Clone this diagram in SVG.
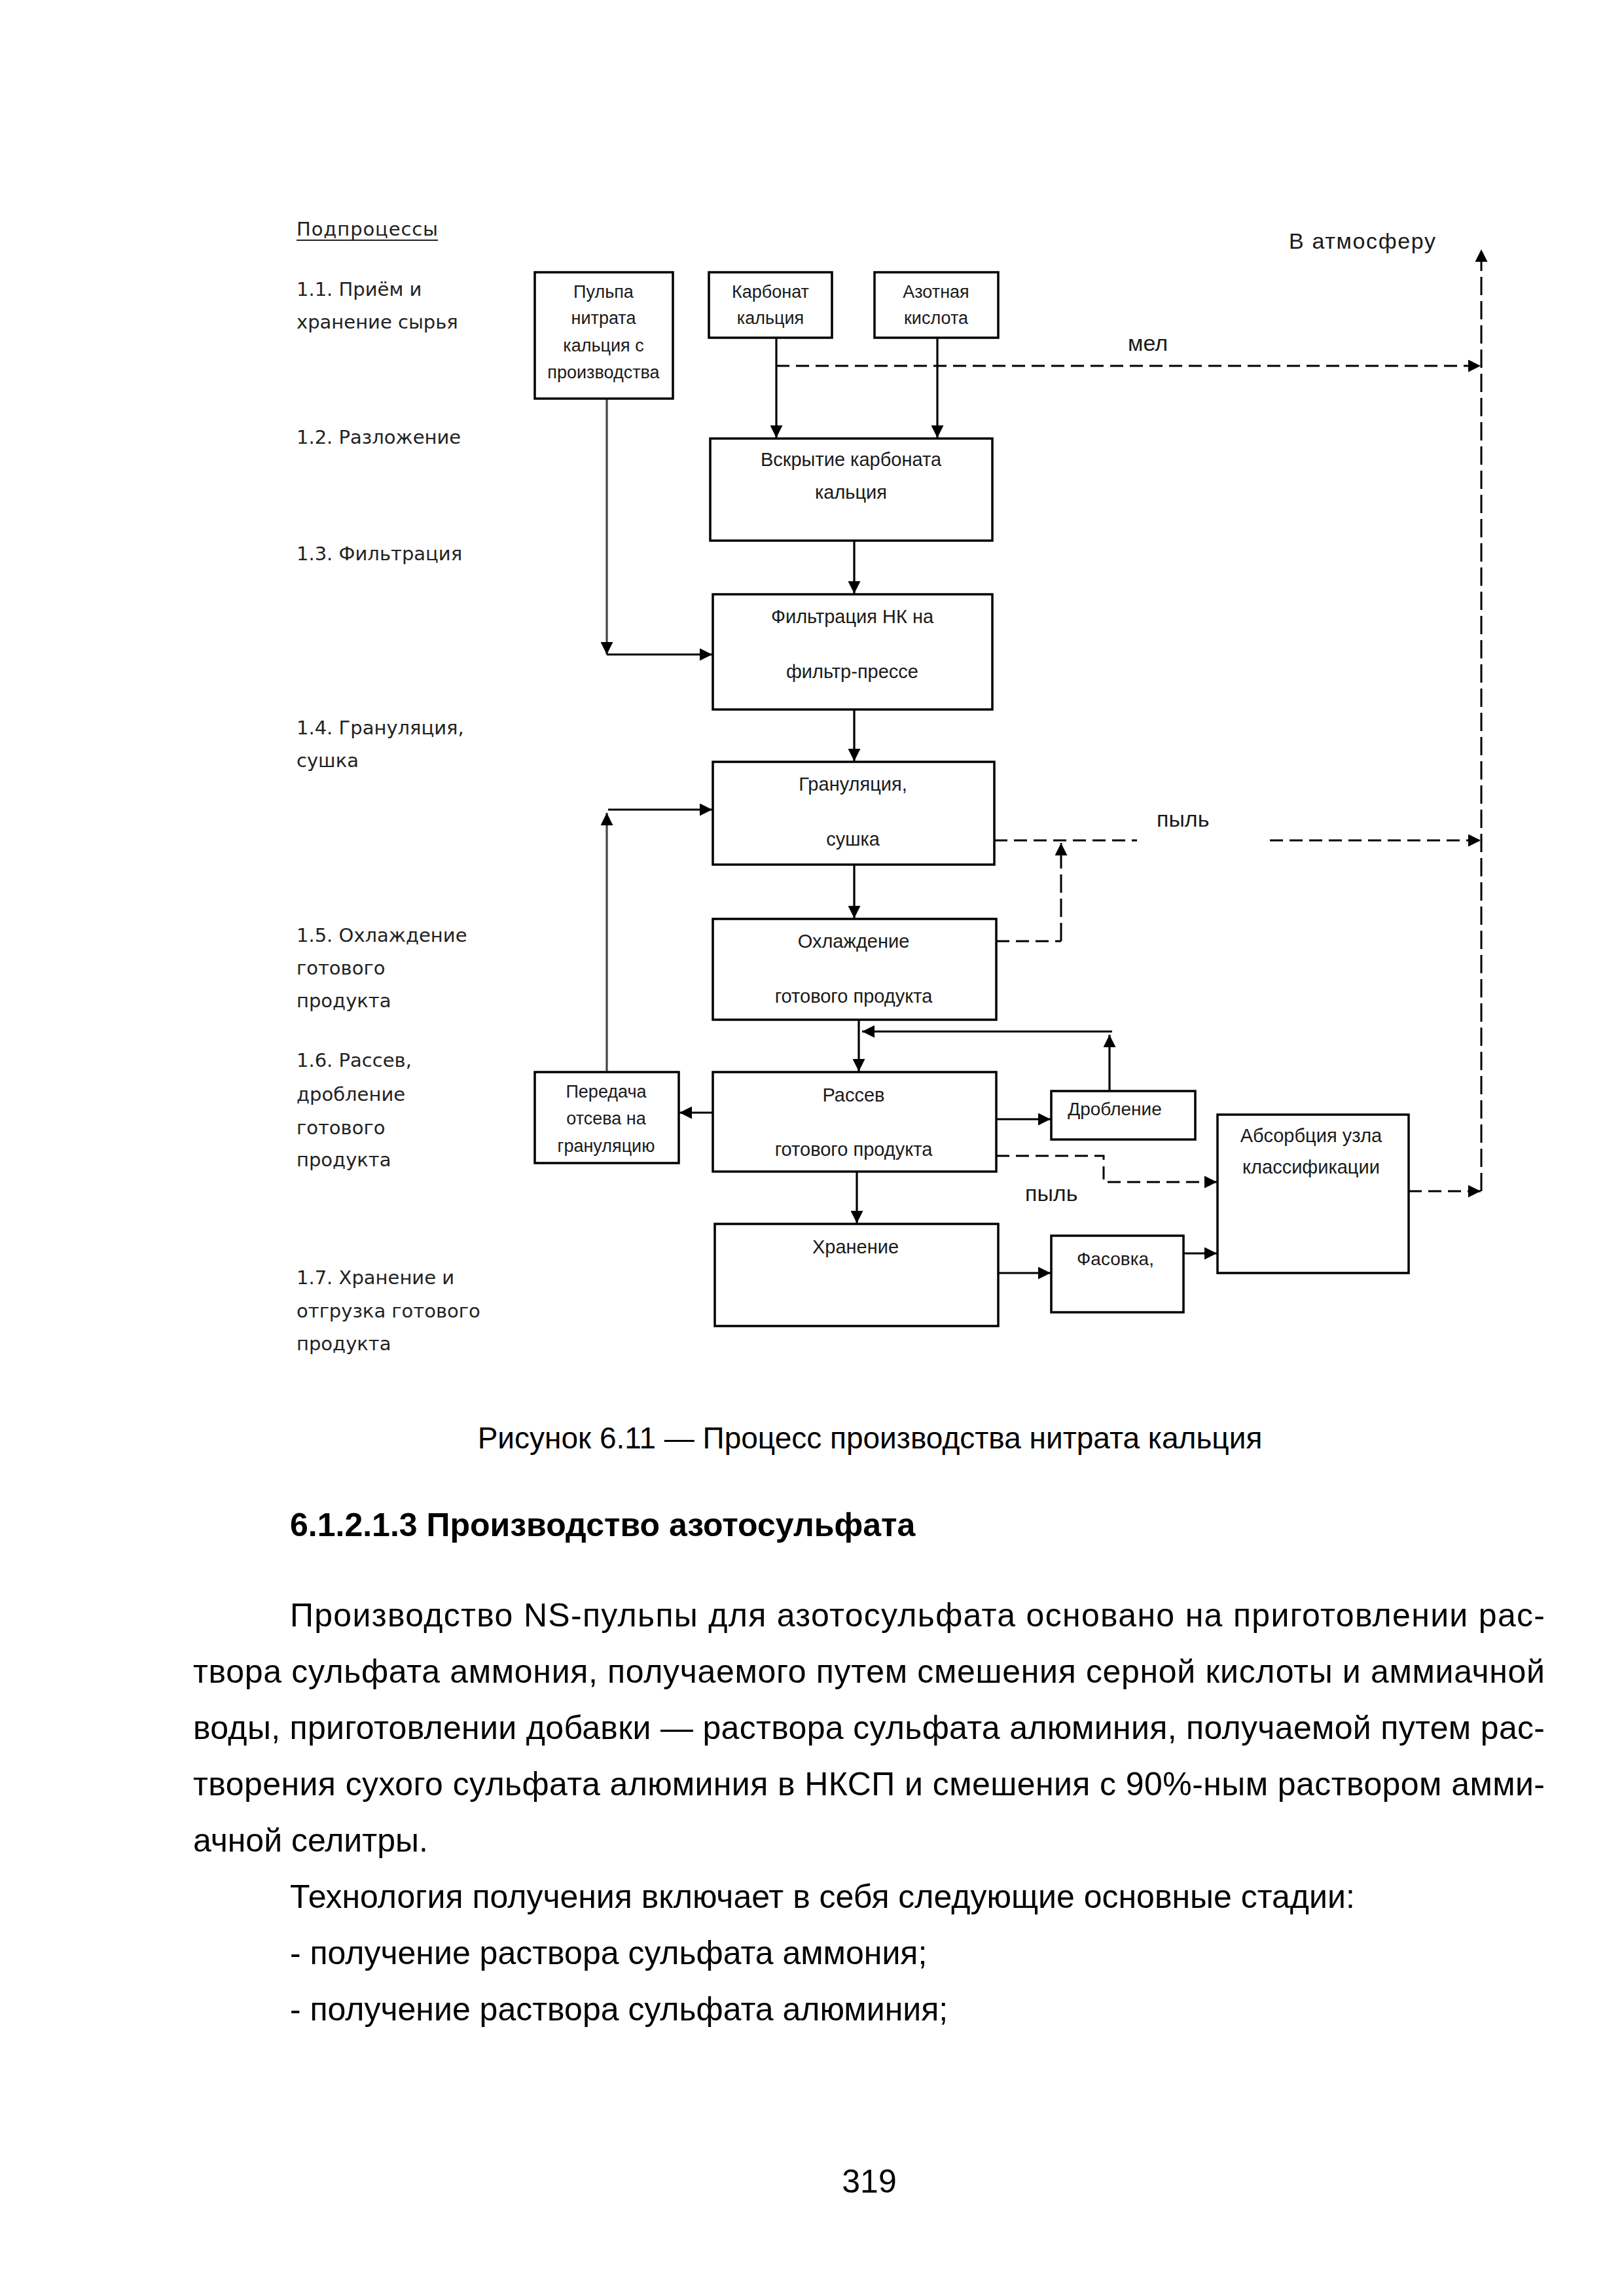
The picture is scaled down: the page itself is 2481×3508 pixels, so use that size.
<svg xmlns="http://www.w3.org/2000/svg" width="2481" height="3508" viewBox="0 0 2481 3508">
<defs>
<marker id="ah" viewBox="0 0 10 10" refX="10" refY="5" markerWidth="19" markerHeight="19" markerUnits="userSpaceOnUse" orient="auto"><path d="M0,0 L10,5 L0,10 z" fill="#000"/></marker>
<style>
.box{fill:#fff;stroke:#000;stroke-width:3.5}
.ln{fill:none;stroke:#000;stroke-width:3.2}
.gl{fill:none;stroke:#444;stroke-width:3.2}
.dh{fill:none;stroke:#000;stroke-width:3;stroke-dasharray:20 10}
.dv{fill:none;stroke:#000;stroke-width:3;stroke-dasharray:28 9}
.t{font-family:"Liberation Sans",Arial,sans-serif;fill:#1a1a1a;text-anchor:middle}
.tb{font-size:29px}
.ts{font-size:27px}
.tm{font-size:28px}
.lab{font-family:"Liberation Sans",Arial,sans-serif;font-size:34px;fill:#1a1a1a}
.left{font-family:"DejaVu Sans",Verdana,sans-serif;font-size:29px;fill:#222}
.body{font-family:"Liberation Sans",Arial,sans-serif;font-size:50px;fill:#000}
.cap{font-family:"Liberation Sans",Arial,sans-serif;font-size:46px;fill:#000;text-anchor:middle}
</style>
</defs>
<rect width="2481" height="3508" fill="#fff"/>

<g id="subprocess-labels">
<text class="left" x="453" y="360" textLength="216">Подпроцессы</text>
<line x1="453" y1="367" x2="669" y2="367" stroke="#222" stroke-width="2"/>
<text class="left" x="453" y="452">1.1. Приём и</text>
<text class="left" x="453" y="502">хранение сырья</text>
<text class="left" x="453" y="678">1.2. Разложение</text>
<text class="left" x="453" y="856">1.3. Фильтрация</text>
<text class="left" x="453" y="1122">1.4. Грануляция,</text>
<text class="left" x="453" y="1172">сушка</text>
<text class="left" x="453" y="1439">1.5. Охлаждение</text>
<text class="left" x="453" y="1489">готового</text>
<text class="left" x="453" y="1539">продукта</text>
<text class="left" x="453" y="1630">1.6. Рассев,</text>
<text class="left" x="453" y="1682">дробление</text>
<text class="left" x="453" y="1733">готового</text>
<text class="left" x="453" y="1782">продукта</text>
<text class="left" x="453" y="1962">1.7. Хранение и</text>
<text class="left" x="453" y="2013">отгрузка готового</text>
<text class="left" x="453" y="2063">продукта</text>
</g>

<g id="connectors">
<line class="ln" x1="1186" y1="516" x2="1186" y2="669" marker-end="url(#ah)"/>
<line class="ln" x1="1432" y1="516" x2="1432" y2="669" marker-end="url(#ah)"/>
<line class="dh" x1="1186" y1="559" x2="2262" y2="559" marker-end="url(#ah)"/>
<line class="ln" x1="1305" y1="826" x2="1305" y2="907" marker-end="url(#ah)"/>
<line class="gl" x1="927" y1="609" x2="927" y2="1000" marker-end="url(#ah)"/>
<line class="ln" x1="927" y1="1000" x2="1088" y2="1000" marker-end="url(#ah)"/>
<line class="ln" x1="1305" y1="1084" x2="1305" y2="1163" marker-end="url(#ah)"/>
<line class="ln" x1="1305" y1="1321" x2="1305" y2="1403" marker-end="url(#ah)"/>
<line class="ln" x1="1312" y1="1558" x2="1312" y2="1637" marker-end="url(#ah)"/>
<line class="ln" x1="1695" y1="1667" x2="1695" y2="1581" marker-end="url(#ah)"/>
<line class="ln" x1="1699" y1="1576" x2="1317" y2="1576" marker-end="url(#ah)"/>
<line class="ln" x1="1522" y1="1710" x2="1605" y2="1710" marker-end="url(#ah)"/>
<line class="ln" x1="1092" y1="1700" x2="1038" y2="1700" marker-end="url(#ah)"/>
<line class="gl" x1="927" y1="1638" x2="927" y2="1242" marker-end="url(#ah)"/>
<line class="ln" x1="929" y1="1237" x2="1088" y2="1237" marker-end="url(#ah)"/>
<line class="ln" x1="1309" y1="1790" x2="1309" y2="1869" marker-end="url(#ah)"/>
<line class="ln" x1="1525" y1="1945" x2="1605" y2="1945" marker-end="url(#ah)"/>
<line class="ln" x1="1808" y1="1915" x2="1859" y2="1915" marker-end="url(#ah)"/>
<line class="dh" x1="1519" y1="1284" x2="1737" y2="1284"/>
<line class="dh" x1="1940" y1="1284" x2="2262" y2="1284" marker-end="url(#ah)"/>
<polyline class="dh" points="1522,1438 1621,1438"/>
<line class="dv" x1="1621" y1="1438" x2="1621" y2="1288" marker-end="url(#ah)"/>
<polyline class="dh" points="1522,1766 1686,1766 1686,1806 1859,1806" marker-end="url(#ah)"/>
<line class="dh" x1="2152" y1="1820" x2="2262" y2="1820" marker-end="url(#ah)"/>
<line class="dv" x1="2263" y1="1820" x2="2263" y2="381" marker-end="url(#ah)"/>
</g>

<g id="flow-labels">
<text class="lab" x="1969" y="380" textLength="224">В  атмосферу</text>
<text class="lab" x="1723" y="536">мел</text>
<text class="lab" x="1767" y="1263">пыль</text>
<text class="lab" x="1566" y="1835">пыль</text>
</g>

<g id="node-pulpa">
<rect class="box" x="817" y="416" width="211" height="193"/>
<text class="t ts" x="922" y="455">Пульпа</text>
<text class="t ts" x="922" y="495">нитрата</text>
<text class="t ts" x="922" y="537">кальция с</text>
<text class="t ts" x="922" y="578">производства</text>
</g>
<g id="node-karbonat">
<rect class="box" x="1083" y="416" width="188" height="100"/>
<text class="t ts" x="1177" y="455">Карбонат</text>
<text class="t ts" x="1177" y="495">кальция</text>
</g>
<g id="node-azot">
<rect class="box" x="1336" y="416" width="189" height="100"/>
<text class="t ts" x="1430" y="455">Азотная</text>
<text class="t ts" x="1430" y="495">кислота</text>
</g>
<g id="node-vskrytie">
<rect class="box" x="1085" y="670" width="431" height="156"/>
<text class="t tb" x="1300" y="712">Вскрытие карбоната</text>
<text class="t tb" x="1300" y="762">кальция</text>
</g>
<g id="node-filtr">
<rect class="box" x="1089" y="908" width="427" height="176"/>
<text class="t tb" x="1302" y="952">Фильтрация НК на</text>
<text class="t tb" x="1302" y="1036">фильтр-прессе</text>
</g>
<g id="node-granul">
<rect class="box" x="1089" y="1164" width="430" height="157"/>
<text class="t tb" x="1303" y="1208">Грануляция,</text>
<text class="t tb" x="1303" y="1292">сушка</text>
</g>
<g id="node-cooling">
<rect class="box" x="1089" y="1404" width="433" height="154"/>
<text class="t tb" x="1304" y="1448">Охлаждение</text>
<text class="t tb" x="1304" y="1532">готового продукта</text>
</g>
<g id="node-rassev">
<rect class="box" x="1089" y="1638" width="433" height="152"/>
<text class="t tb" x="1304" y="1683">Рассев</text>
<text class="t tb" x="1304" y="1766">готового продукта</text>
</g>
<g id="node-peredacha">
<rect class="box" x="817" y="1638" width="220" height="139"/>
<text class="t ts" x="926" y="1677">Передача</text>
<text class="t ts" x="926" y="1718">отсева на</text>
<text class="t ts" x="926" y="1760">грануляцию</text>
</g>
<g id="node-drob">
<rect class="box" x="1606" y="1667" width="220" height="74"/>
<text class="t tm" x="1703" y="1704">Дробление</text>
</g>
<g id="node-khranenie">
<rect class="box" x="1092" y="1870" width="433" height="156"/>
<text class="t tb" x="1307" y="1915">Хранение</text>
</g>
<g id="node-fasovka">
<rect class="box" x="1606" y="1888" width="202" height="117"/>
<text class="t tm" x="1704" y="1933">Фасовка,</text>
</g>
<g id="node-absorb">
<rect class="box" x="1860" y="1703" width="292" height="242"/>
<text class="t tb" x="2003" y="1745">Абсорбция узла</text>
<text class="t tb" x="2003" y="1793">классификации</text>
</g>

<g id="page-text">
<text class="cap" x="1329" y="2213">Рисунок 6.11 — Процесс производства нитрата кальция</text>
<text class="body" x="443" y="2347" font-weight="bold">6.1.2.1.3 Производство азотосульфата</text>
<text class="body" x="443" y="2485" textLength="1917" lengthAdjust="spacing">Производство NS-пульпы для азотосульфата основано на приготовлении рас-</text>
<text class="body" x="295" y="2571" textLength="2065" lengthAdjust="spacing">твора сульфата аммония, получаемого путем смешения серной кислоты и аммиачной</text>
<text class="body" x="295" y="2657" textLength="2065" lengthAdjust="spacing">воды, приготовлении добавки — раствора сульфата алюминия, получаемой путем рас-</text>
<text class="body" x="295" y="2743" textLength="2065" lengthAdjust="spacing">творения сухого сульфата алюминия в НКСП и смешения с 90%-ным раствором амми-</text>
<text class="body" x="295" y="2829">ачной селитры.</text>
<text class="body" x="443" y="2915">Технология получения включает в себя следующие основные стадии:</text>
<text class="body" x="443" y="3001">- получение раствора сульфата аммония;</text>
<text class="body" x="443" y="3087">- получение раствора сульфата алюминия;</text>
<text class="body" x="1328" y="3350" text-anchor="middle">319</text>
</g>
</svg>
